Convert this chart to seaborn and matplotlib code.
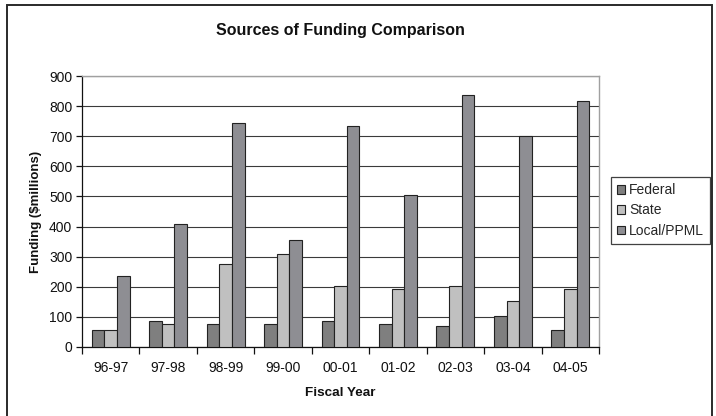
import matplotlib
matplotlib.use("Agg")
import matplotlib.pyplot as plt
from matplotlib.patches import Rectangle
from matplotlib.ticker import FixedLocator
import seaborn as sns
import pandas as pd

years = ["96-97", "97-98", "98-99", "99-00", "00-01", "01-02", "02-03", "03-04", "04-05"]
federal = [57, 87, 76, 76, 86, 76, 69, 103, 57]
state = [57, 76, 276, 309, 202, 194, 202, 152, 194]
local_ppml = [237, 409, 743, 357, 735, 506, 836, 702, 818]
sources = ["Federal", "State", "Local/PPML"]
colors = ["#7f7f7f", "#c0c0c0", "#8e8e93"]

df = pd.DataFrame({
    "Fiscal Year": years * 3,
    "Funding": federal + state + local_ppml,
    "Source": [s for s in sources for _ in years],
})

sns.set_theme(style="white")
plt.rcParams["font.family"] = ["Liberation Sans", "DejaVu Sans"]

W, H = 716, 416
fig = plt.figure(figsize=(W / 100, H / 100), dpi=100)
x0, x1, y0, y1 = 82, 599, 76, 347
ax = fig.add_axes([x0 / W, 1 - y1 / H, (x1 - x0) / W, (y1 - y0) / H])

sns.barplot(data=df, x="Fiscal Year", y="Funding", hue="Source",
            hue_order=sources, palette=colors, width=0.66,
            edgecolor="#222222", linewidth=0.8, saturation=1,
            errorbar=None, ax=ax, zorder=3)

ax.set_ylim(0, 900)
ax.set_xlim(-0.5, len(years) - 0.5)
ax.set_yticks(range(0, 901, 100))
ax.yaxis.grid(True, color="#3a3a3a", linewidth=0.8, zorder=0)
ax.set_axisbelow(True)

# category boundary ticks, labels centred between them
ax.xaxis.set_minor_locator(FixedLocator([i - 0.5 for i in range(len(years) + 1)]))
ax.tick_params(axis="x", which="major", length=0, pad=10, labelsize=10, colors="#111111")
ax.tick_params(axis="x", which="minor", length=5, width=0.9, color="#111111", direction="out", bottom=True)
ax.tick_params(axis="y", which="major", length=4, width=0.9, color="#111111", direction="out",
               left=True, pad=3, labelsize=10, labelcolor="#111111")

for side in ["left", "bottom"]:
    ax.spines[side].set_color("#111111")
    ax.spines[side].set_linewidth(0.9)
for side in ["top", "right"]:
    ax.spines[side].set_visible(True)
    ax.spines[side].set_color("#a0a0a0")
    ax.spines[side].set_linewidth(1.0)

ax.set_xlabel("Fiscal Year", fontsize=9.7, fontweight="bold", labelpad=9, color="#111111")
ax.set_ylabel("Funding ($millions)", fontsize=9.5, fontweight="bold", labelpad=5, color="#111111")

fig.text((x0 + x1) / 2 / W, 1 - 30 / H, "Sources of Funding Comparison",
         ha="center", va="center", fontsize=11.5, fontweight="bold", color="#111111")

ax.get_legend().remove()
handles = [Rectangle((0, 0), 1, 1, facecolor=c, edgecolor="#222222", linewidth=0.8) for c in colors]
leg = fig.legend(handles, sources, loc="upper left",
                 bbox_to_anchor=(611 / W, 1 - 177 / H), frameon=True, fancybox=False,
                 fontsize=10, handlelength=0.55, handleheight=0.55, handletextpad=0.3,
                 labelspacing=0.45, borderpad=0.45, borderaxespad=0)
leg.get_frame().set_edgecolor("#111111")
leg.get_frame().set_linewidth(0.9)

# outer chart border
fig.patches.append(Rectangle((7 / W, -0.02), (712 - 7) / W, 1 - 5 / H + 0.02,
                             transform=fig.transFigure, fill=False,
                             edgecolor="#2a2a2a", linewidth=1.4))

fig.savefig("out.png", dpi=100)
